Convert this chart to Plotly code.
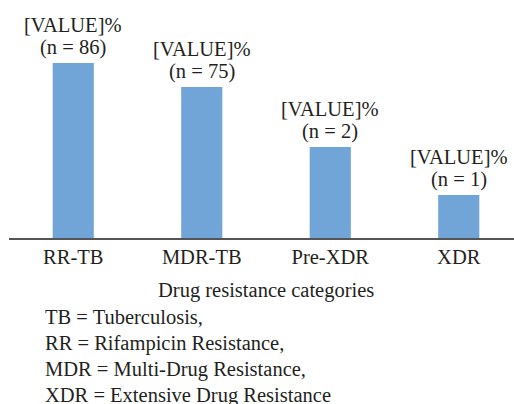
import plotly.graph_objects as go

categories = ["RR-TB", "MDR-TB", "Pre-XDR", "XDR"]
bar_heights = [175, 151, 91, 43]  # relative bar heights
counts = [86, 75, 2, 1]
footnotes = [
    "TB = Tuberculosis,",
    "RR = Rifampicin Resistance,",
    "MDR = Multi-Drug Resistance,",
    "XDR = Extensive Drug Resistance",
]
x_title = "Drug resistance categories"

FONT = "Liberation Serif"
TXT = "#231F20"
FS = 20.5
W, H = 514, 404
L, R, T, B = 9, 0, 10, 166
plot_h = H - T - B
plot_w = W - L - R

fig = go.Figure(go.Bar(
    x=categories, y=bar_heights,
    marker=dict(color="#71A4D7", line=dict(width=0)),
    width=0.32,
    hoverinfo="skip",
))

fig.update_layout(
    width=W, height=H,
    margin=dict(l=L, r=R, t=T, b=B, pad=0, autoexpand=False),
    paper_bgcolor="white", plot_bgcolor="white",
    showlegend=False,
    font=dict(family=FONT, size=FS, color=TXT),
)
fig.update_xaxes(
    range=[-0.5, -0.5 + plot_w / 128.5],
    showline=True, linecolor="#555555", linewidth=1.5,
    showgrid=False, zeroline=False, ticks="",
    tickfont=dict(family=FONT, size=FS, color=TXT),
    ticklabelstandoff=0, automargin=False,
)
fig.update_yaxes(range=[0, plot_h], visible=False, automargin=False)

# value labels above bars (two lines each)
for c, v, n in zip(categories, bar_heights, counts):
    fig.add_annotation(x=c, y=v, text="[VALUE]%", showarrow=False,
                       yanchor="middle", yshift=38,
                       font=dict(family=FONT, size=FS, color=TXT))
    fig.add_annotation(x=c, y=v, text=f"(n = {n})", showarrow=False,
                       yanchor="middle", yshift=16,
                       font=dict(family=FONT, size=FS, color=TXT))

def ypaper(py):
    return (H - B - py) / plot_h

def xpaper(px):
    return (px - L) / plot_w

fig.add_annotation(text=x_title, xref="paper", yref="paper",
                   x=xpaper(266), y=ypaper(290), xanchor="center", yanchor="middle",
                   showarrow=False, font=dict(family=FONT, size=FS, color=TXT))
for i, t in enumerate(footnotes):
    fig.add_annotation(text=t, xref="paper", yref="paper",
                       x=xpaper(43), y=ypaper(317 + i * 26), xanchor="left", yanchor="middle",
                       showarrow=False, font=dict(family=FONT, size=FS, color=TXT))

fig.write_html(
    "out.html",
    config={"displayModeBar": False},
    post_script="document.body.style.margin='0';document.body.style.overflow='hidden';",
)
